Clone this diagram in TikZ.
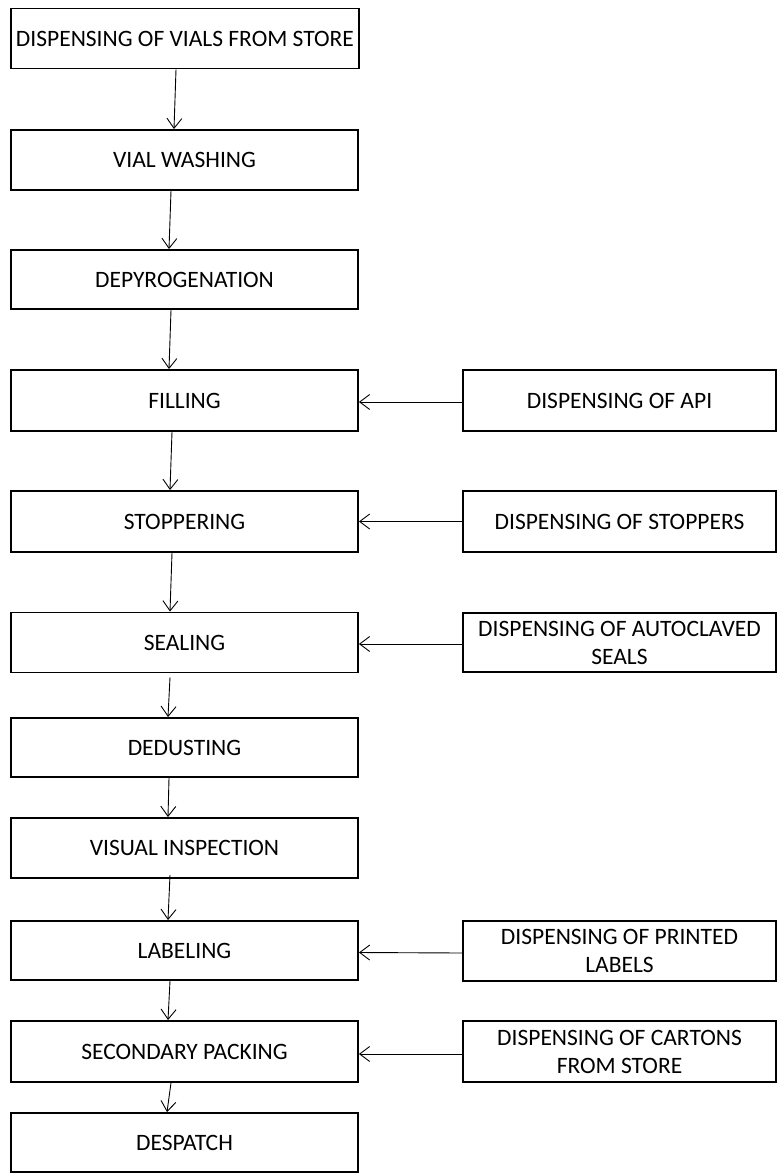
\documentclass[tikz,border=0pt]{standalone}
\usepackage{fontspec}
\setmainfont{Carlito}
\usepackage{tikz}
\usetikzlibrary{arrows.meta}

\tikzset{
  stepbox/.style={draw, line width=1.9pt, minimum width=347pt, minimum height=60pt, inner sep=0pt, align=center},
  supplybox/.style={draw, line width=1.9pt, minimum width=313pt, minimum height=60pt, inner sep=0pt, align=center},
  flow/.style={-{Straight Barb[length=10pt,width=15pt]}, line width=0.9pt}
}

\begin{document}
\begin{tikzpicture}[x=1pt, y=-1pt]
  \tikzstyle{every node}=[font=\fontsize{23.5}{28}\selectfont]
  \useasboundingbox (0,0) rectangle (779,1174);
  % main line
  \node[stepbox, minimum width=348pt] (vials) at (185, 38.5) {DISPENSING OF VIALS FROM STORE};
  \node[stepbox] (washing) at (184.5, 160) {VIAL WASHING};
  \node[stepbox, minimum height=59pt] (depyro) at (184.5, 279.5) {DEPYROGENATION};
  \node[stepbox, minimum height=61pt] (filling) at (184.5, 400.5) {FILLING};
  \node[stepbox, minimum height=61pt] (stoppering) at (184.5, 521.5) {STOPPERING};
  \node[stepbox, minimum height=60pt] (sealing) at (184.5, 642.5) {SEALING};
  \node[stepbox, minimum height=59pt] (dedusting) at (184.5, 747.5) {DEDUSTING};
  \node[stepbox] (inspection) at (184.5, 848) {VISUAL INSPECTION};
  \node[stepbox, minimum height=59pt] (labeling) at (184.5, 950.5) {LABELING};
  \node[stepbox, minimum height=61pt] (packing) at (184.5, 1051.5) {SECONDARY PACKING};
  \node[stepbox, minimum height=59pt] (despatch) at (184.5, 1142.5) {DESPATCH};
  % supplies
  \node[supplybox, minimum height=61pt] (api) at (619.5, 400.5) {DISPENSING OF API};
  \node[supplybox, minimum height=61pt] (stoppers) at (619.5, 521.5) {DISPENSING OF STOPPERS};
  \node[supplybox, minimum height=59pt] (seals) at (619.5, 642.5) {DISPENSING OF AUTOCLAVED\\SEALS};
  \node[supplybox] (labels) at (619.5, 951) {DISPENSING OF PRINTED\\LABELS};
  \node[supplybox, minimum height=61pt] (cartons) at (619.5, 1051.5) {DISPENSING OF CARTONS\\FROM STORE};
  % arrows down
  \draw[flow] ([xshift=-9pt]vials.south) -- ([xshift=-10.5pt]washing.north);
  \draw[flow] ([xshift=-13.5pt]washing.south) -- ([xshift=-15.5pt]depyro.north);
  \draw[flow] ([xshift=-13.5pt]depyro.south) -- ([xshift=-15.5pt]filling.north);
  \draw[flow] ([xshift=-12.5pt]filling.south) -- ([xshift=-14.5pt]stoppering.north);
  \draw[flow] ([xshift=-12.5pt]stoppering.south) -- ([xshift=-14.5pt]sealing.north);
  \draw[flow] ([xshift=-14.5pt, yshift=-4pt]sealing.south) -- ([xshift=-16.5pt]dedusting.north);
  \draw[flow] ([xshift=-15.5pt]dedusting.south) -- ([xshift=-16.5pt]inspection.north);
  \draw[flow] ([xshift=-14.5pt, yshift=4pt]inspection.south) -- ([xshift=-16.5pt]labeling.north);
  \draw[flow] ([xshift=-14.5pt]labeling.south) -- ([xshift=-16.5pt]packing.north);
  \draw[flow] ([xshift=-13.5pt]packing.south) -- ([xshift=-17.5pt]despatch.north);
  % arrows in
  \draw[flow] ([yshift=-1.5pt]api.west) -- ([yshift=-1.5pt]filling.east);
  \draw[flow] (stoppers.west) -- (stoppering.east);
  \draw[flow] ([yshift=-1.5pt]seals.west) -- ([yshift=-1.5pt]sealing.east);
  \draw[flow] ([yshift=-2pt]labels.west) -- ([yshift=-2pt]labeling.east);
  \draw[flow] ([yshift=-2.5pt]cartons.west) -- ([yshift=-2.5pt]packing.east);
\end{tikzpicture}
\end{document}
